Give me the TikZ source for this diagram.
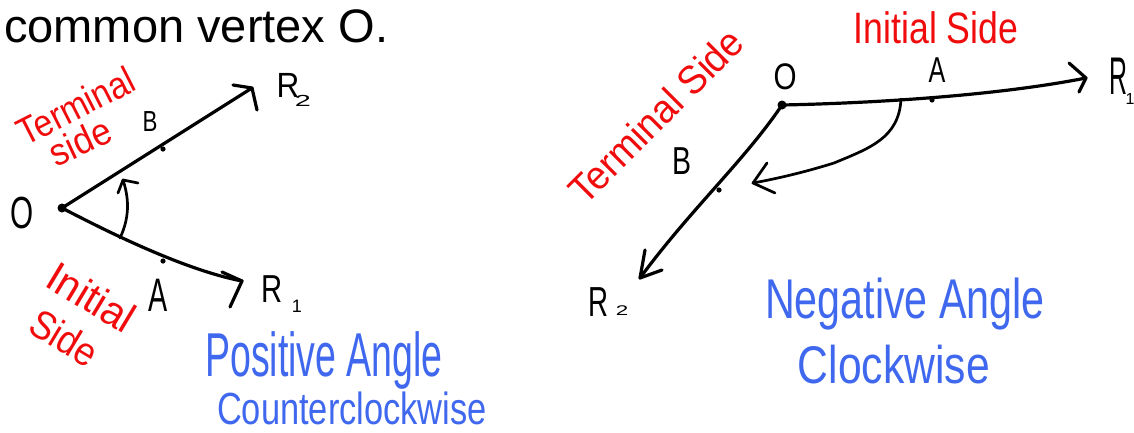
\documentclass[tikz,border=0pt]{standalone}
\usepackage{fontspec}
\setmainfont{Liberation Sans}
\usetikzlibrary{calc}
\definecolor{inkred}{RGB}{240,12,12}
\definecolor{inkblue}{RGB}{64,104,238}
\newcommand{\hw}[3]{{\fontsize{#1}{#1}\selectfont\scalebox{#2}[1]{#3}}}
\begin{document}
\begin{tikzpicture}[x=1pt,y=-1pt,line cap=round,line join=round,
  ray/.style={line width=3.2pt,black},
  arcline/.style={line width=2.7pt,black},
  lbl/.style={inner sep=0pt,text=black},
  redtxt/.style={inner sep=0pt,text=inkred},
  bluetxt/.style={inner sep=0pt,text=inkblue}]
\useasboundingbox (0,0) rectangle (1134,432);

% heading
\node[lbl,anchor=base west] (title) at (4,42) {\fontsize{47}{50}\selectfont common vertex O.};

% ---------------- left diagram ----------------
\coordinate (LO) at (62,208);
\coordinate (LB) at (163,149);
\coordinate (LR2) at (252,88);
\coordinate (LA) at (163,261);
\coordinate (LR1) at (242,281);
\coordinate (Larcs) at (120,238);
\coordinate (Larct) at (123,180);

\draw[ray] (LO) -- (LR2);
\draw[ray] ($(LR2)+(-19,-3)$) -- (LR2) -- ($(LR2)+(5,22)$);
\draw[ray] (LO) .. controls (110,233) and (185,270) .. (LR1);
\draw[ray] ($(LR1)+(-20,-9)$) -- (LR1) -- ($(LR1)+(-12,26)$);
\draw[arcline] (Larcs) .. controls (131,215) and (128,195) .. (Larct);
\draw[arcline] ($(Larct)+(-5,13)$) -- (Larct) -- ($(Larct)+(15,3)$);
\fill (LO) circle (4.5);
\fill (LB) circle (2.6);
\fill (LA) circle (2.6);

\node[lbl] (lO) at (22,213) {\hw{45}{0.66}{O}};
\node[lbl] (lB) at (150,122) {\hw{29}{0.77}{B}};
\node[lbl] (lA) at (158,295) {\hw{47}{0.61}{A}};
\node[lbl] (lR2) at (288,85) {\hw{35}{0.9}{R}};
\node[lbl] (lR2s) at (303,101) {\hw{16}{1.8}{2}};
\node[lbl] (lR1) at (272,289) {\hw{39}{0.75}{R}};
\node[lbl] (lR1s) at (297,306) {\hw{18}{1}{1}};

\node[redtxt,rotate=27,anchor=base] (lTerm) at (82,118) {\hw{38}{0.88}{Terminal}};
\node[redtxt,rotate=25,anchor=base] (lTside) at (86,154) {\hw{38}{0.92}{side}};
\node[redtxt,rotate=-31,anchor=base] (lInit) at (84,310) {\hw{42}{0.97}{Initial}};
\node[redtxt,rotate=-31,anchor=base] (lIside) at (57,350) {\hw{40}{0.9}{Side}};

\node[bluetxt,anchor=base] (pos) at (324,376) {\hw{62}{0.605}{Positive Angle}};
\node[bluetxt,anchor=base] (ccw) at (352,424) {\hw{45}{0.765}{Counterclockwise}};

% ---------------- right diagram ----------------
\coordinate (RO) at (782,105);
\coordinate (RR1) at (1086,78);
\coordinate (RR2) at (640,278);
\coordinate (RA) at (932,100);
\coordinate (RB) at (719,190);
\coordinate (Rarcs) at (901,99);
\coordinate (Rarct) at (753,183);

\draw[ray] (RO) .. controls (880,103) and (1000,95) .. (RR1);
\draw[ray] ($(RR1)+(-17,-15)$) -- (RR1) -- ($(RR1)+(-7,14)$);
\draw[ray] (RO) .. controls (745,160) and (690,210) .. (RR2);
\draw[ray] ($(RR2)+(5,-28)$) -- (RR2) -- ($(RR2)+(22,-8)$);
\draw[arcline] (Rarcs) .. controls (899,138) and (870,148) .. (834,163)
  .. controls (805,172) and (780,178) .. (Rarct);
\draw[arcline] ($(Rarct)+(14,-20)$) -- (Rarct) -- ($(Rarct)+(22,10)$);
\fill (RO) circle (4.5);
\fill (RA) circle (2.6);
\fill (RB) circle (2.6);

\node[lbl] (rO) at (785,77) {\hw{37}{0.8}{O}};
\node[lbl] (rA) at (937,70) {\hw{36}{0.7}{A}};
\node[lbl] (rB) at (682,161) {\hw{39}{0.73}{B}};
\node[lbl] (rR1) at (1118,76) {\hw{53}{0.47}{R}};
\node[lbl] (rR1s) at (1130,99) {\hw{16}{1}{1}};
\node[lbl] (rR2) at (598,302) {\hw{42}{0.66}{R}};
\node[lbl] (rR2s) at (622,311) {\hw{14}{1.6}{2}};

\node[redtxt,rotate=45,anchor=base] (rTerm) at (666,126) {\hw{40}{0.94}{Terminal Side}};
\node[redtxt,anchor=base] (rInit) at (936,43) {\hw{44}{0.81}{Initial Side}};

\node[bluetxt,anchor=base] (neg) at (905,318) {\hw{56}{0.737}{Negative Angle}};
\node[bluetxt,anchor=base] (cw) at (894,383) {\hw{53}{0.805}{Clockwise}};
\end{tikzpicture}
\end{document}
